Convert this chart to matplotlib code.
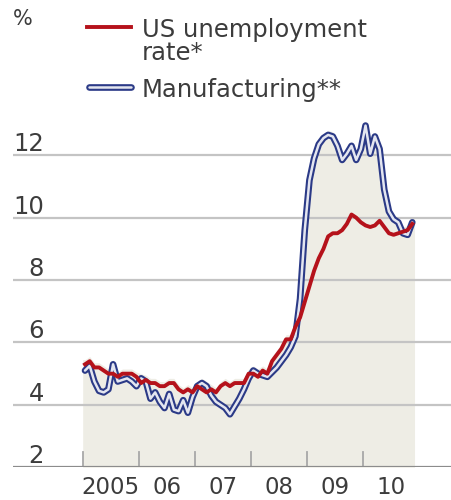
import numpy as np
import matplotlib
matplotlib.use("Agg")
import matplotlib.pyplot as plt

# Monthly series, January 2005 to November 2010
start_year = 2005
us_rate = [
    5.3, 5.4, 5.2, 5.2, 5.1, 5.0, 5.0, 4.9, 5.0, 5.0, 5.0, 4.9,   # 2005
    4.7, 4.8, 4.7, 4.7, 4.6, 4.6, 4.7, 4.7, 4.5, 4.4, 4.5, 4.4,   # 2006
    4.6, 4.5, 4.4, 4.5, 4.4, 4.6, 4.7, 4.6, 4.7, 4.7, 4.7, 5.0,   # 2007
    5.0, 4.9, 5.1, 5.0, 5.4, 5.6, 5.8, 6.1, 6.1, 6.5, 6.8, 7.3,   # 2008
    7.8, 8.3, 8.7, 9.0, 9.4, 9.5, 9.5, 9.6, 9.8, 10.1, 10.0, 9.85,  # 2009
    9.75, 9.7, 9.75, 9.9, 9.7, 9.5, 9.45, 9.5, 9.55, 9.6, 9.8,    # 2010
]
manufacturing = [
    5.1, 5.25, 4.75, 4.45, 4.4, 4.5, 5.3, 4.75, 4.8, 4.85, 4.75, 4.6,     # 2005
    4.85, 4.75, 4.2, 4.4, 4.1, 3.9, 4.35, 3.85, 3.8, 4.15, 3.75, 4.25,    # 2006
    4.6, 4.7, 4.6, 4.3, 4.1, 4.0, 3.9, 3.7, 3.95, 4.2, 4.5, 4.85,        # 2007
    5.1, 5.0, 4.95, 4.9, 5.05, 5.2, 5.4, 5.6, 5.85, 6.2, 7.4, 9.6,       # 2008
    11.2, 11.9, 12.35, 12.55, 12.65, 12.6, 12.3, 11.85, 12.05, 12.3, 11.85, 12.2,  # 2009
    12.95, 12.05, 12.6, 12.2, 10.9, 10.2, 9.95, 9.85, 9.5, 9.45, 9.85,   # 2010
]
year_ticks = [2005, 2006, 2007, 2008, 2009, 2010]
year_labels = ["2005", "06", "07", "08", "09", "10"]
y_ticks = [2, 4, 6, 8, 10, 12]

RED = "#b5121b"
NAVY = "#2b3a87"
INNER = "#e4e6f0"
SHADE = "#eeede5"
GRID = "#c4c4c4"
TEXT = "#3c3c3c"

plt.rcParams["font.family"] = ["DejaVu Sans"]

n = len(us_rate)
x = start_year + (np.arange(n) + 0.5) / 12.0
us = np.array(us_rate)
mf = np.array(manufacturing)

fig = plt.figure(figsize=(4.51, 5.0), dpi=100)
ax = fig.add_axes([13 / 451, (500 - 467.3) / 500, 438 / 451, 367.3 / 500])
ax.set_xlim(2003.758, 2011.565)
ax.set_ylim(2, 13.77)
ax.axis("off")

# shaded area beneath the series
top = np.maximum(us, mf) + 0.15
xs = np.concatenate([[start_year], x, [x[-1] + 0.04]])
ts = np.concatenate([[top[0]], top, [top[-1]]])
ax.fill_between(xs, 2, ts, color=SHADE, lw=0, zorder=1)

# horizontal gridlines
for v in y_ticks[1:]:
    ax.axhline(v, color=GRID, lw=1.6, zorder=2)
ax.axhline(2, color="#8c8c8c", lw=1.6, zorder=5)

# year tick marks rising from the baseline
for yr in year_ticks:
    ax.plot([yr, yr], [2, 2.5], color="#a8a8a8", lw=1.3, zorder=4)

# y tick labels sitting above their gridlines
for v in y_ticks:
    ax.text(2004.31, v + 0.13, str(v), ha="right", va="baseline",
            fontsize=17.5, color=TEXT, zorder=6)

# year labels centred between tick marks
for yr, lab in zip(year_ticks, year_labels):
    ax.text(yr + 0.5, 1.15, lab, ha="center", va="baseline",
            fontsize=16.5, color=TEXT, clip_on=False)

# manufacturing: double line
ax.plot(x, mf, color=NAVY, lw=4.8, solid_joinstyle="round",
        solid_capstyle="round", zorder=6)
ax.plot(x, mf, color=INNER, lw=1.8, solid_joinstyle="round",
        solid_capstyle="round", zorder=7)
# headline unemployment rate
ax.plot(x, us, color=RED, lw=2.8, solid_joinstyle="round", zorder=8)

# legend and unit label in figure pixels
def fx(px):
    return px / 451

def fy(py):
    return 1 - py / 500

fig.text(fx(13), fy(9), "%", fontsize=15, color=TEXT, va="top", ha="left")
fig.lines.append(plt.Line2D([fx(87), fx(131)], [fy(27.3), fy(27.3)],
                            color=RED, lw=2.8, transform=fig.transFigure))
fig.lines.append(plt.Line2D([fx(89), fx(131)], [fy(87.3), fy(87.3)],
                            color=NAVY, lw=4.8, solid_capstyle="round",
                            transform=fig.transFigure))
fig.lines.append(plt.Line2D([fx(89), fx(131)], [fy(87.3), fy(87.3)],
                            color=INNER, lw=1.8, solid_capstyle="round",
                            transform=fig.transFigure))
fig.text(fx(142), fy(36.7), "US unemployment", fontsize=17.5,
         color=TEXT, va="baseline", ha="left")
fig.text(fx(142), fy(60), "rate*", fontsize=17.5,
         color=TEXT, va="baseline", ha="left")
fig.text(fx(142), fy(97.3), "Manufacturing**", fontsize=17.5,
         color=TEXT, va="baseline", ha="left")

fig.savefig("out.png", dpi=100)
